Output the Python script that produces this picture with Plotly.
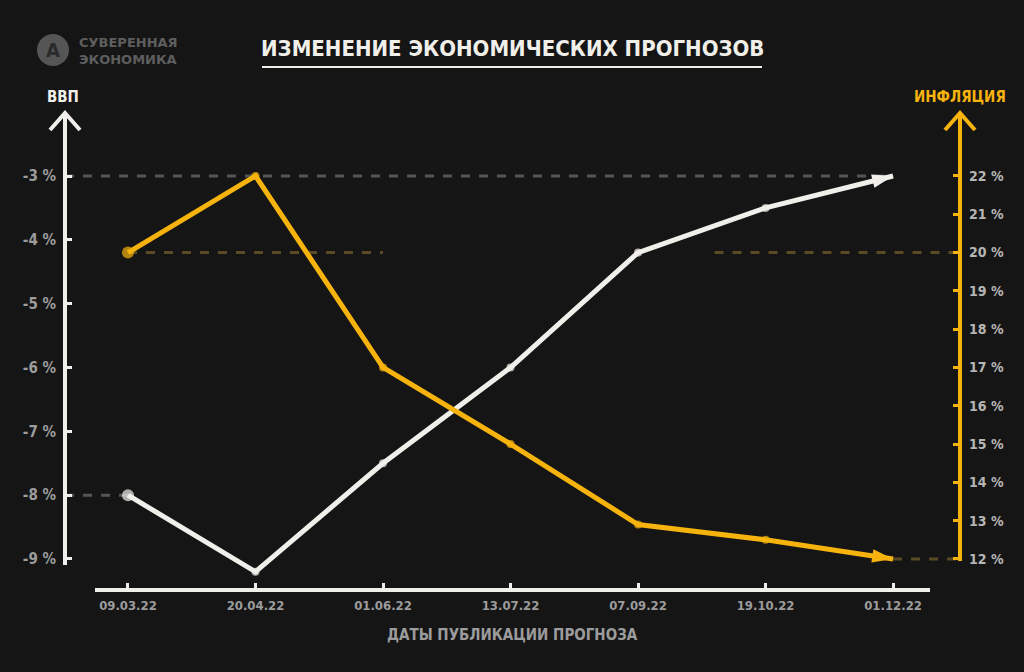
import plotly.graph_objects as go

dates = ["09.03.22", "20.04.22", "01.06.22", "13.07.22", "07.09.22", "19.10.22", "01.12.22"]
gdp = [-8.0, -9.2, -7.5, -6.0, -4.2, -3.5, -3.0]
inflation = [20.0, 22.0, 17.0, 15.0, 12.9, 12.5, 12.0]
gdp_ticks = [-3, -4, -5, -6, -7, -8, -9]
infl_ticks = [12, 13, 14, 15, 16, 17, 18, 19, 20, 21, 22]

BG = "#151515"
WHITE = "#F1EFEA"
YELLOW = "#F6B30E"
GRAY = "#9c9c9c"
FONT = "DejaVu Sans Condensed, Roboto, sans-serif"

# plot area in pixels
L, R, T, B = 65, 960, 115, 590
W, H = R - L, B - T


def px(x):
    return (x - L) / W


def py(y):
    return (B - y) / H


n = len(dates)
xr = [-0.494, 6.525]
y1r = [-9.486, -2.044]
y2r = [11.19, 23.59]

fig = go.Figure()
for ys, col, ax in [(gdp, WHITE, "y"), (inflation, YELLOW, "y2")]:
    fig.add_trace(go.Scatter(
        x=dates[:-1], y=ys[:-1], mode="markers", yaxis=ax,
        marker=dict(symbol="circle", size=[12] + [8] * (n - 2), color=col, line=dict(width=0)),
        cliponaxis=False, showlegend=False, hoverinfo="skip",
    ))
    fig.add_trace(go.Scatter(
        x=dates, y=ys, mode="lines", yaxis=ax,
        line=dict(color=col, width=5),
        cliponaxis=False, showlegend=False,
    ))
    fig.add_trace(go.Scatter(
        x=dates[-2:], y=ys[-2:], mode="markers", yaxis=ax,
        marker=dict(symbol=["circle", "arrow"], size=[1, 22], opacity=[0, 1], color=col,
                    angleref="previous", line=dict(width=0)),
        cliponaxis=False, showlegend=False, hoverinfo="skip",
    ))

shapes = []
# reference dashed lines
shapes.append(dict(type="line", xref="x", yref="y", x0=xr[0], x1=n - 1, y0=gdp[-1], y1=gdp[-1],
                   line=dict(color="#555555", width=3, dash="dash"), layer="below"))
shapes.append(dict(type="line", xref="x", yref="y", x0=xr[0], x1=0, y0=gdp[0], y1=gdp[0],
                   line=dict(color="#555555", width=3, dash="dash"), layer="below"))
shapes.append(dict(type="line", xref="x", yref="y2", x0=0, x1=2, y0=inflation[0], y1=inflation[0],
                   line=dict(color="#5b4a26", width=3, dash="dash"), layer="below"))
shapes.append(dict(type="line", xref="x", yref="y2", x0=4.6, x1=xr[1], y0=inflation[0], y1=inflation[0],
                   line=dict(color="#5b4a26", width=3, dash="dash"), layer="below"))
shapes.append(dict(type="line", xref="x", yref="y2", x0=n - 1, x1=xr[1], y0=inflation[-1], y1=inflation[-1],
                   line=dict(color="#5b4a26", width=3, dash="dash"), layer="below"))
# axis lines
shapes.append(dict(type="line", xref="paper", yref="paper", x0=0, x1=0, y0=py(565), y1=py(114),
                   line=dict(color=WHITE, width=4)))
shapes.append(dict(type="line", xref="paper", yref="paper", x0=1, x1=1, y0=py(561), y1=py(114),
                   line=dict(color=YELLOW, width=4)))
shapes.append(dict(type="line", xref="paper", yref="paper", x0=px(95), x1=px(930), y0=0, y1=0,
                   line=dict(color=WHITE, width=4)))
# arrow heads
for xa, col in [(L, WHITE), (R, YELLOW)]:
    shapes.append(dict(type="path", xref="paper", yref="paper",
                       path=f"M {px(xa-15)},{py(130)} L {px(xa)},{py(113)} L {px(xa+15)},{py(130)}",
                       line=dict(color=col, width=4)))
# title underline
shapes.append(dict(type="line", xref="paper", yref="paper", x0=px(262), x1=px(762), y0=py(67), y1=py(67),
                   line=dict(color=WHITE, width=2)))
# logo circle
shapes.append(dict(type="circle", xref="paper", yref="paper", x0=px(37), x1=px(69), y0=py(66), y1=py(34),
                   fillcolor="#555555", line=dict(width=0)))

annotations = [
    dict(text="<b>ИЗМЕНЕНИЕ ЭКОНОМИЧЕСКИХ ПРОГНОЗОВ</b>", x=px(512), y=py(49), xref="paper", yref="paper",
         showarrow=False, font=dict(family=FONT, size=22, color=WHITE), xanchor="center", yanchor="middle"),
    dict(text="<b>СУВЕРЕННАЯ<br>ЭКОНОМИКА</b>", x=px(77), y=py(51), xref="paper", yref="paper",
         showarrow=False, font=dict(family="DejaVu Sans, sans-serif", size=13, color="#5e5e5e"),
         xanchor="left", yanchor="middle", align="left"),
    dict(text="<b>А</b>", x=px(53), y=py(50), xref="paper", yref="paper", showarrow=False,
         font=dict(family=FONT, size=20, color="#2a2a2a"), xanchor="center", yanchor="middle"),
    dict(text="<b>ВВП</b>", x=px(63), y=py(97), xref="paper", yref="paper", showarrow=False,
         font=dict(family=FONT, size=15, color=WHITE), xanchor="center", yanchor="middle"),
    dict(text="<b>ИНФЛЯЦИЯ</b>", x=px(960), y=py(97), xref="paper", yref="paper", showarrow=False,
         font=dict(family=FONT, size=15, color=YELLOW), xanchor="center", yanchor="middle"),
    dict(text="<b>ДАТЫ ПУБЛИКАЦИИ ПРОГНОЗА</b>", x=px(512), y=py(635), xref="paper", yref="paper",
         showarrow=False, font=dict(family=FONT, size=15, color=GRAY), xanchor="center", yanchor="middle"),
]

fig.update_layout(
    width=1024, height=672,
    margin=dict(l=L, r=1024 - R, t=T, b=672 - B, autoexpand=False),
    paper_bgcolor=BG, plot_bgcolor=BG,
    showlegend=False,
    xaxis=dict(type="category", range=xr, showgrid=False, zeroline=False, showline=False,
               ticks="inside", ticklen=7, tickwidth=3, tickcolor=WHITE,
               tickvals=dates, ticktext=[f"<b>{d}</b>" for d in dates],
               tickfont=dict(family=FONT, size=13, color=GRAY), ticklabelstandoff=6),
    yaxis=dict(range=y1r, tickvals=gdp_ticks, ticktext=[f"<b>{v} %</b>" for v in gdp_ticks],
               showgrid=False, zeroline=False, showline=False,
               ticks="inside", ticklen=7, tickwidth=3, tickcolor=WHITE,
               tickfont=dict(family=FONT, size=15, color=GRAY), ticklabelstandoff=8),
    yaxis2=dict(range=y2r, overlaying="y", side="right", tickvals=infl_ticks,
                ticktext=[f"<b>{v} %</b>" for v in infl_ticks],
                showgrid=False, zeroline=False, showline=False,
                ticks="inside", ticklen=7, tickwidth=3, tickcolor=YELLOW,
                tickfont=dict(family=FONT, size=14, color="#b5b5b5"), ticklabelstandoff=8),
    shapes=shapes,
    annotations=annotations,
)

fig.write_html("out.html")
